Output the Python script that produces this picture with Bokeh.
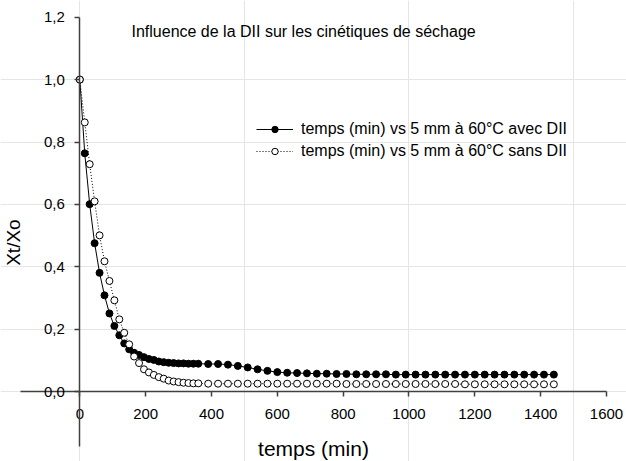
import math
from bokeh.plotting import figure
from bokeh.models import LinearAxis, FixedTicker, CustomJSTickFormatter, Label, Legend, LegendItem, Range1d
from bokeh.embed import file_html
from bokeh.resources import INLINE

# ---- data ----
t_min = [0, 15, 30, 45, 60, 75, 90, 105, 120, 135, 150, 165, 180, 195, 210, 225, 240, 255,
         270, 285, 300, 315, 330, 345, 360,
         390, 420, 450, 480, 510, 540, 570, 600, 630, 660, 690, 720, 750, 780, 810, 840,
         870, 900, 930, 960, 990, 1020, 1050, 1080, 1110, 1140, 1170, 1200, 1230, 1260,
         1290, 1320, 1350, 1380, 1410, 1440]

avec_dii = [1.0, 0.764, 0.601, 0.476, 0.381, 0.309, 0.251, 0.211, 0.181, 0.155, 0.136, 0.125,
            0.118, 0.111, 0.105, 0.102, 0.097, 0.095, 0.093, 0.092, 0.091, 0.091, 0.090,
            0.090, 0.090,
            0.089, 0.089, 0.087, 0.083, 0.078, 0.072, 0.067, 0.063, 0.061, 0.060, 0.059,
            0.058, 0.058, 0.057, 0.057, 0.056, 0.056, 0.056, 0.056, 0.055, 0.055, 0.055,
            0.055, 0.055, 0.055, 0.055, 0.055, 0.055, 0.055, 0.055, 0.055, 0.055, 0.055,
            0.055, 0.055, 0.055]

sans_dii = [1.0, 0.863, 0.729, 0.610, 0.501, 0.418, 0.355, 0.293, 0.232, 0.189, 0.152, 0.113,
            0.092, 0.072, 0.062, 0.054, 0.047, 0.042, 0.036, 0.033, 0.031, 0.029, 0.028,
            0.027, 0.027,
            0.026, 0.026, 0.026, 0.026, 0.026, 0.026, 0.026, 0.026, 0.026, 0.026, 0.026,
            0.026, 0.026, 0.026, 0.025, 0.025, 0.025, 0.025, 0.025, 0.025, 0.025, 0.025,
            0.025, 0.025, 0.025, 0.025, 0.024, 0.024, 0.024, 0.024, 0.024, 0.024, 0.024,
            0.024, 0.024, 0.024]

x_ticks = [0, 200, 400, 600, 800, 1000, 1200, 1400, 1600]
y_ticks = [0.0, 0.2, 0.4, 0.6, 0.8, 1.0, 1.2]

title_text = "Influence de la DII sur les cinétiques de séchage"
x_label = "temps (min)"
y_label = "Xt/Xo"
label_avec = "temps (min) vs 5 mm à 60°C avec DII"
label_sans = "temps (min) vs 5 mm à 60°C sans DII"

FONT = "Liberation Sans"
AXIS_COLOR = "#404040"

p = figure(width=626, height=461, output_backend="svg", toolbar_location=None,
           x_axis_location=None, y_axis_location=None, min_border=0,
           x_range=Range1d(-240.9, 1660.7), y_range=Range1d(-0.2233, 1.2534))
p.outline_line_color = None
p.background_fill_color = "white"
p.border_fill_color = "white"

# axes crossing at zero
xaxis = LinearAxis(fixed_location=0, bounds=(-180, 1600), ticker=FixedTicker(ticks=x_ticks),
                   axis_label=x_label)
yaxis = LinearAxis(fixed_location=0, bounds=(-0.175, 1.2), ticker=FixedTicker(ticks=y_ticks),
                   formatter=CustomJSTickFormatter(code="return tick.toFixed(1).replace('.', ',');"))
for ax in (xaxis, yaxis):
    ax.axis_line_color = AXIS_COLOR
    ax.axis_line_width = 1.5
    ax.major_tick_line_color = AXIS_COLOR
    ax.major_tick_line_width = 1.5
    ax.major_tick_in = 0
    ax.major_tick_out = 5
    ax.minor_tick_line_color = None
    ax.major_label_text_font = FONT
    ax.major_label_text_font_size = "15px"
    ax.major_label_text_color = "black"
    ax.axis_label_text_font = FONT
    ax.axis_label_text_font_style = "normal"
    ax.axis_label_text_color = "black"
xaxis.major_label_standoff = 12
xaxis.axis_label_text_font_size = "21px"
xaxis.axis_label_standoff = 15
yaxis.major_label_standoff = 10
p.add_layout(xaxis, "below")
p.add_layout(yaxis, "left")

# series
l1 = p.line(t_min, avec_dii, line_color="black", line_width=1)
s1 = p.scatter(t_min, avec_dii, size=7, fill_color="black", line_color="black")
l2 = p.line(t_min, sans_dii, line_color="black", line_width=1, line_dash="1 2")
s2 = p.scatter(t_min, sans_dii, size=7, fill_color="white", line_color="black", line_width=1)

legend = Legend(items=[LegendItem(label=label_avec, renderers=[l1, s1]),
                       LegendItem(label=label_sans, renderers=[l2, s2])],
                location=(256, 300), orientation="vertical")
legend.border_line_color = None
legend.background_fill_alpha = 0
legend.padding = 0
legend.margin = 0
legend.spacing = 2
legend.glyph_width = 37
legend.glyph_height = 16
legend.label_height = 20
legend.label_standoff = 8
legend.label_text_font = FONT
legend.label_text_font_size = "16px"
legend.label_text_color = "black"
p.add_layout(legend, "center")

title = Label(x=157, y=1.154, text=title_text, text_font=FONT, text_font_size="16px",
              text_baseline="middle", text_align="left", text_color="black")
p.add_layout(title)

ylab = Label(x=-201, y=0.478, text=y_label, text_font=FONT, text_font_size="19px",
             angle=math.pi / 2, text_align="center", text_baseline="middle", text_color="black")
p.add_layout(ylab)

open("out.html", "w").write(file_html(p, INLINE))
